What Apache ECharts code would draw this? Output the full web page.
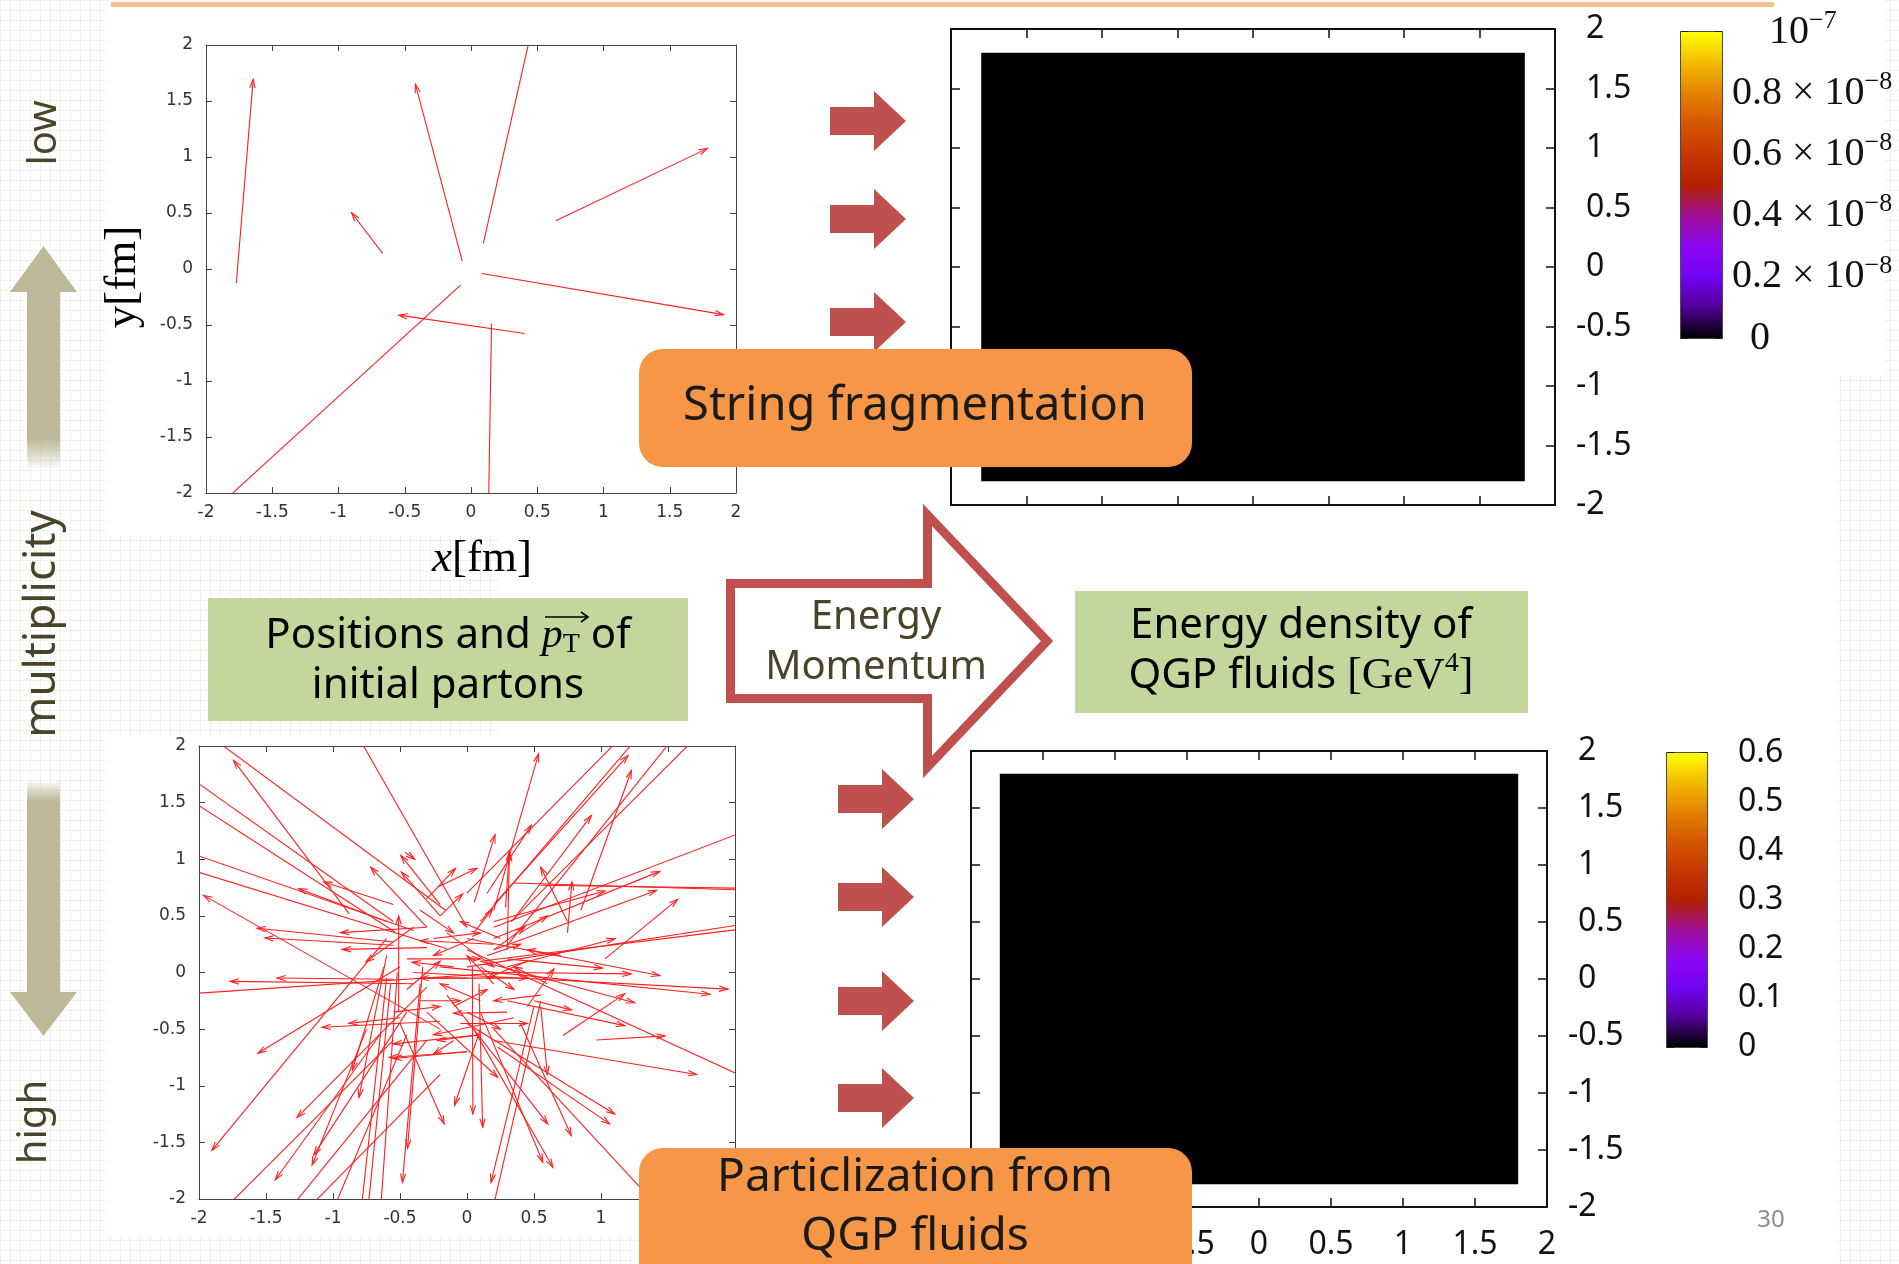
<!DOCTYPE html>
<html>
<head>
<meta charset="utf-8">
<script src="https://cdn.jsdelivr.net/npm/echarts@6/dist/echarts.min.js"></script>
<style>
html,body{margin:0;padding:0;background:#fff;}
#main{width:1899px;height:1264px;}
</style>
</head>
<body>
<div id="main"></div>
<script>
// ---------------- DATA ----------------
// tick labels of the parton plots (x and y, fm)
const posTicks = ['-2','-1.5','-1','-0.5','0','0.5','1','1.5','2'];
// tick labels of the energy-density maps
const mapTicks = ['-2','-1.5','-1','-0.5','0','0.5','1','1.5','2'];

// low multiplicity partons: [x_tail, y_tail, x_head, y_head] (fm)
const lowArrows = [
  [-1.771,-0.124,-1.644,1.693],
  [-0.667,0.139,-0.901,0.502],
  [-0.066,0.070,-0.419,1.649],
  [0.093,0.228,0.489,2.3],
  [0.640,0.430,1.785,1.077],
  [0.082,-0.040,1.906,-0.407],
  [0.405,-0.576,-0.545,-0.412],
  [0.155,-0.487,0.130,-2.3],
  [-0.079,-0.144,-2.1,-2.326]
];

// high multiplicity partons: [x_tail, y_tail, x_head, y_head] (fm)
const highArrows = [
  [-0.16,0.55,-2.0,2.16],[-0.88,0.52,-1.742,1.873],[-0.55,0.45,-2.1,1.75],[-0.54,0.36,-2.1,1.55],
  [-0.4,0.37,-2.1,1.07],[-0.15,0.21,-2.1,0.92],[-0.2,-0.5,-1.966,0.681],[-0.55,0.27,-1.567,0.391],
  [-0.55,0.24,-1.508,0.305],[0.3,0.0,-2.1,-0.19],[-0.4,-0.1,-1.767,-0.078],[-0.55,-0.06,-1.418,-0.049],
  [-0.2,-0.43,-1.081,-0.484],[-0.5,-0.4,-0.881,-0.449],[-0.5,0.05,-1.56,-0.713],[-0.6,0.3,-1.904,-1.57],
  [-0.3,-0.13,-1.268,-1.28],[-0.65,-0.55,-1.43,-1.83],[-0.45,-0.35,-1.143,-1.61],[-0.75,-0.5,-1.156,-1.70],
  [-0.62,0.05,-0.856,-0.863],[-0.6,0.15,-0.806,-1.102],[-0.35,-0.1,-0.482,-1.853],[-0.33,0.05,-0.444,-1.55],
  [-0.5,-0.45,-0.17,-1.337],[0.1,-0.5,-0.093,-1.172],[0.04,0.05,0.044,-1.249],[0.09,-0.1,0.117,-1.366],
  [0.5,-0.3,0.179,-1.853],[-0.3,-0.35,0.229,-0.925],[-0.15,-0.2,0.603,-1.337],[0.05,-0.5,0.641,-1.72],
  [0.1,-0.35,0.566,-1.675],[0.4,-0.45,0.778,-1.44],[0.23,-0.66,1.065,-1.337],[0.0,-0.45,1.102,-1.249],
  [0.2,-0.6,1.713,-0.901],[0.965,-0.596,1.478,-0.56],[0.0,0.2,2.3,-1.05],[0.3,-0.25,1.177,-0.469],
  [0.1,0.1,1.251,-0.267],[0.0,0.3,1.438,-0.027],[-0.2,0.05,1.812,-0.192],[-0.4,0.0,1.946,-0.147],
  [0.3,0.0,1.224,-0.012],[0.3,0.12,1.010,0.039],[1.03,0.12,1.572,0.646],[0.2,0.2,1.414,0.725],
  [0.2,0.3,1.439,0.893],[0.2,0.4,2.3,1.35],[0.35,0.79,2.3,0.72],[0.55,0.77,2.3,0.74],
  [0.3,0.05,1.104,0.298],[0.0,0.05,2.3,0.47],[0.1,0.1,2.3,0.42],[0.342,0.461,0.928,1.387],
  [0.15,0.7,0.479,1.299],[0.055,0.62,0.209,1.217],[0.2,0.55,0.534,1.931],[0.2,0.6,1.202,1.917],
  [0.85,0.55,1.227,1.784],[0.33,0.45,1.73,2.1],[0.3,0.24,1.56,2.1],[0.1,0.45,1.29,2.1],
  [0.0,0.7,1.17,2.1],[0.0,0.4,-0.82,2.1],[-0.2,0.6,-0.494,1.034],[-0.46,1.06,-0.39,1.0],
  [-0.3,0.4,-0.719,0.931],[-0.2,0.5,-0.489,0.887],[-0.55,0.6,-1.068,0.799],[-0.6,0.45,-1.255,0.74],
  [-0.3,0.4,-0.943,0.352],[-0.3,0.22,-0.931,0.204],[-0.4,0.4,-0.754,0.094],[-0.3,0.65,-0.086,0.92],
  [-0.219,0.755,0.075,0.92],[-0.2,0.5,-0.032,0.695],[0.288,0.575,0.315,1.056],[0.3,0.2,0.317,1.064],
  [0.75,0.35,0.783,0.8],[0.45,-0.3,0.649,0.033],[0.716,-0.557,1.177,-0.189],[-0.51,-0.35,-0.51,0.5],
  [0.75,0.45,0.55,0.93],[0.2,0.45,1.03,0.72],[0.2,0.2,0.43,0.4],[0.05,0.35,0.19,0.56],
  [0.5,-0.25,0.78,-0.33],[0.55,-0.3,0.6,-0.9],[0.0,-0.7,-0.58,-0.75],[0.1,-0.55,-0.22,-0.6],
  [-0.55,-0.6,-1.82,-2.1],[-0.3,-0.6,-1.33,-2.1],[-0.2,-0.9,-1.2,-2.1],[-0.45,-0.55,-1.0,-2.1],
  [-0.6,-0.05,-0.79,-2.1],[-0.57,-0.1,-0.74,-2.1],[-0.52,0.0,-0.645,-2.1],[0.55,-0.25,0.19,-2.1],
  [0.2,-0.5,1.45,-2.1],
  [-0.1,0.05,-0.41,0.09],[0.2,0.25,-0.35,0.28],[-0.45,0.12,0.1,0.12],[0.0,-0.05,-0.35,-0.05],
  [-0.3,-0.05,0.45,-0.05],[0.1,-0.25,-0.2,-0.1],[-0.05,-0.45,0.45,-0.45],[0.35,-0.4,-0.25,-0.55],
  [0.1,-0.55,-0.55,-0.63],[0.0,-0.7,-0.55,-0.76],[-0.1,-0.6,-0.25,-0.72],[0.3,-0.35,-0.1,-0.36],
  [0.05,0.3,-0.25,0.15],[0.15,0.15,0.4,0.25],[-0.15,0.35,0.2,0.05],[0.2,-0.1,0.0,0.15],
  [0.45,0.1,0.15,-0.05],[-0.35,-0.25,-0.05,-0.25],[0.55,-0.2,0.2,-0.25],[-0.25,0.3,0.1,0.35],
  [0.1,0.05,0.35,-0.15],[0.25,0.3,-0.05,0.45],[-0.45,-0.15,-0.2,0.1],[0.4,0.35,0.6,0.5],
  [-0.1,-0.3,0.15,-0.15],[0.6,-0.1,0.35,0.05],[-0.55,-0.35,-0.2,-0.3],[0.0,-0.35,0.25,-0.5],
  [0.7,0.15,0.45,0.2],[-0.35,0.55,-0.1,0.35]
];

// energy density maps: one cell spanning the plotted region (fm), value in GeV^4
const densityCellX = [-1.8, 1.8];
const densityCellY = [-1.8, 1.8];
const lowDensity = [0];     // in units of 1e-8 GeV^4
const highDensity = [0];    // GeV^4

// colour bars
const lowBarRange = [0, 1];            // x 1e-8
const lowBarStep = 0.2;
const lowBarLabels = [['0',''],['0.2 × 10','−8'],['0.4 × 10','−8'],['0.6 × 10','−8'],['0.8 × 10','−8'],['10','−7']];
const highBarRange = [0, 0.6];
const highBarStep = 0.1;
const highBarLabels = ['0','0.1','0.2','0.3','0.4','0.5','0.6'];

// ---------------- STYLE ----------------
const SANS = "'Noto Sans','Open Sans',sans-serif";
const SERIF = "'Liberation Serif','DejaVu Serif',serif";
const GNU = "'DejaVu Sans','Noto Sans',sans-serif";
const palette = ['#000000','#510096','#7202f3','#8c07f3','#a11096','#b42000','#c63700','#d55700','#e48300','#f2ba00','#ffff00'];

const chart = echarts.init(document.getElementById('main'), null, {renderer:'canvas'});

function arrowItem(params, api) {
  const p0 = api.coord([api.value(0), api.value(1)]);
  const p1 = api.coord([api.value(2), api.value(3)]);
  const ang = Math.atan2(p1[1]-p0[1], p1[0]-p0[0]);
  const L = 9, a = 0.3;
  const h1 = [p1[0]-L*Math.cos(ang-a), p1[1]-L*Math.sin(ang-a)];
  const h2 = [p1[0]-L*Math.cos(ang+a), p1[1]-L*Math.sin(ang+a)];
  return {type:'group', children:[
    {type:'line', shape:{x1:p0[0],y1:p0[1],x2:p1[0],y2:p1[1]}, style:{stroke:'#ff1e1e', lineWidth:1.1}},
    {type:'polyline', shape:{points:[h1,p1,h2]}, style:{stroke:'#ff1e1e', lineWidth:1.1, fill:null}}
  ]};
}
function cellItem(params, api) {
  const p0 = api.coord([api.value(0), api.value(1)]);
  const p1 = api.coord([api.value(2), api.value(3)]);
  return {type:'rect', shape:{x:Math.min(p0[0],p1[0]), y:Math.min(p0[1],p1[1]),
    width:Math.abs(p1[0]-p0[0]), height:Math.abs(p1[1]-p0[1])}, style:{fill:api.visual('color')}};
}
function barItem(params, api) {
  const p0 = api.coord([api.value(0), api.value(1)]);
  const p1 = api.coord([api.value(2), api.value(3)]);
  const stops = palette.map((c,i)=>({offset:i/(palette.length-1), color:c}));
  return {type:'rect', shape:{x:Math.min(p0[0],p1[0]), y:Math.min(p0[1],p1[1]),
    width:Math.abs(p1[0]-p0[0]), height:Math.abs(p1[1]-p0[1])},
    style:{fill:new echarts.graphic.LinearGradient(0,1,0,0,stops)}};
}

const posLab = v => posTicks[Math.round((v+2)/0.5)];
const mapLab = v => mapTicks[Math.round((v+2)/0.5)];

function posX(gi, bottom) {
  return {gridIndex:gi, type:'value', min:-2, max:2, interval:0.5, position: bottom?'bottom':'top',
    axisLine:{onZero:false, lineStyle:{color:'#444', width:1}},
    axisTick:{inside:true, length:6, lineStyle:{color:'#444'}},
    axisLabel:{show:bottom, formatter:posLab, fontFamily:GNU, fontSize:17, color:'#333', margin:11},
    splitLine:{show:false}};
}
function posY(gi, left) {
  return {gridIndex:gi, type:'value', min:-2, max:2, interval:0.5, position: left?'left':'right',
    axisLine:{onZero:false, lineStyle:{color:'#444', width:1}},
    axisTick:{inside:true, length:6, lineStyle:{color:'#444'}},
    axisLabel:{show:left, formatter:posLab, fontFamily:GNU, fontSize:17, color:'#333', margin:13},
    splitLine:{show:false}};
}
const mapRich = {
  n:{fontFamily:SANS, fontSize:32, color:'#111'},
  p:{fontFamily:SANS, fontSize:32, color:'#111', padding:[0,0,0,10]}
};
function mapX(gi, bottom, labels) {
  return {gridIndex:gi, type:'value', min:-2, max:2, interval:0.5, position: bottom?'bottom':'top',
    axisLine:{onZero:false, lineStyle:{color:'#111', width:2}},
    axisTick:{inside:true, length:9, lineStyle:{color:'#111', width:1.5}},
    axisLabel:{show:labels, formatter:mapLab, fontFamily:SANS, fontSize:32, color:'#111', margin:22},
    splitLine:{show:false}};
}
function mapY(gi, left) {
  return {gridIndex:gi, type:'value', min:-2, max:2, interval:0.5, position: left?'left':'right',
    axisLine:{onZero:false, lineStyle:{color:'#111', width:2}},
    axisTick:{inside:true, length:9, lineStyle:{color:'#111', width:1.5}},
    axisLabel:{show:!left, margin:21, formatter:v => (v<0?'{n|':'{p|')+mapLab(v)+'}', rich:mapRich},
    splitLine:{show:false}};
}
function barX(gi, bottom) {
  return {gridIndex:gi, type:'value', min:0, max:1, position: bottom?'bottom':'top',
    axisLine:{onZero:false, lineStyle:{color:'#111', width:1.5}}, axisTick:{show:false},
    axisLabel:{show:false}, splitLine:{show:false}};
}
function barY(gi, left, range, step, label) {
  return {gridIndex:gi, type:'value', min:range[0], max:range[1], interval:step, position: left?'left':'right',
    axisLine:{onZero:false, lineStyle:{color:'#111', width:1.5}},
    axisTick:{inside:true, length:7, lineStyle:{color:'#111', width:1.5}},
    axisLabel:label ? Object.assign({show:!left}, label) : {show:false},
    splitLine:{show:false}};
}

const lowBarLabel = {
  margin:10,
  formatter: v => {
    const i = Math.round((v-lowBarRange[0])/lowBarStep);
    const l = lowBarLabels[i];
    if (i === 0) return '{z|'+l[0]+'}';
    if (l[0] === '10') return '{t|'+l[0]+'}{s|'+l[1]+'}';
    return '{b|'+l[0]+'}{s|'+l[1]+'}';
  },
  rich:{
    b:{fontFamily:SERIF, fontSize:40, color:'#111'},
    z:{fontFamily:SERIF, fontSize:40, color:'#111', padding:[0,0,0,18]},
    t:{fontFamily:SERIF, fontSize:40, color:'#111', padding:[0,0,0,37]},
    s:{fontFamily:SERIF, fontSize:26, color:'#111', padding:[0,0,22,0]}
  }
};
const highBarLabel = {
  margin:31, fontFamily:SANS, fontSize:32, color:'#111',
  formatter: v => highBarLabels[Math.round((v-highBarRange[0])/highBarStep)]
};

// background dotted pattern
function makePattern(){
  const c=document.createElement('canvas'); c.width=10; c.height=10;
  const g=c.getContext('2d'); g.fillStyle='#e7e9d4';
  for(let i=0;i<10;i+=3){ g.fillRect(i,0,1.5,1); g.fillRect(0,i,1,1.5); }
  return c;
}
const pat = {image:makePattern(), repeat:'repeat'};

function blockArrow(x0, cy) {
  return {type:'polygon', z:5, shape:{points:[[x0,cy-14],[x0+44,cy-14],[x0+44,cy-30],[x0+76,cy],[x0+44,cy+30],[x0+44,cy+14],[x0,cy+14]]},
    style:{fill:'#c0504d'}};
}
function txt(text, x, y, size, color, extra) {
  return Object.assign({type:'text', x:x, y:y, z:60, style:Object.assign({text:text, fontFamily:SANS, fontSize:size, fill:color, align:'center', verticalAlign:'middle'}, extra||{})});
}

const graphics = [
  // background pattern strips
  {type:'rect', z:0, shape:{x:0,y:0,width:108,height:1264}, style:{fill:pat}},
  {type:'rect', z:0, shape:{x:108,y:535,width:390,height:200}, style:{fill:pat}},
  {type:'rect', z:0, shape:{x:108,y:1235,width:530,height:29}, style:{fill:pat}},
  {type:'rect', z:0, shape:{x:1838,y:375,width:61,height:889}, style:{fill:pat}},
  {type:'rect', z:0, shape:{x:1884,y:0,width:15,height:375}, style:{fill:pat}},
  // top rule
  {type:'rect', z:5, shape:{x:111,y:2,width:1663,height:5}, style:{fill:'#fac090'}},
  // multiplicity double arrow
  {type:'polygon', z:5, shape:{points:[[43.5,246],[77,292],[60,292],[60,470],[27,470],[27,292],[10,292]]},
    style:{fill:new echarts.graphic.LinearGradient(0,0,0,1,[{offset:0,color:'#bdb898'},{offset:0.86,color:'#bdb898'},{offset:1,color:'rgba(189,184,152,0)'}])}},
  {type:'polygon', z:5, shape:{points:[[27,780],[60,780],[60,992],[77,992],[43.5,1036],[10,992],[27,992]]},
    style:{fill:new echarts.graphic.LinearGradient(0,0,0,1,[{offset:0,color:'rgba(189,184,152,0)'},{offset:0.08,color:'#bdb898'},{offset:1,color:'#bdb898'}])}},
  Object.assign(txt('low', 45, 133, 40, '#494429'), {rotation:Math.PI/2}),
  Object.assign(txt('multiplicity', 42, 624, 44, '#494429'), {rotation:Math.PI/2}),
  Object.assign(txt('high', 35, 1122, 40, '#494429'), {rotation:Math.PI/2}),
  // red block arrows
  blockArrow(830,121), blockArrow(830,219), blockArrow(830,322),
  blockArrow(838,799), blockArrow(838,897), blockArrow(838,1001), blockArrow(838,1098),
  // big outlined arrow
  {type:'polygon', z:5, shape:{points:[[730.5,583.5],[927.5,583.5],[927.5,515],[1047,641],[927.5,767],[927.5,698.5],[730.5,698.5]]},
    style:{fill:'#ffffff', stroke:'#c0504d', lineWidth:9, lineJoin:'miter'}},
  txt('Energy', 876, 618, 40, '#494429'),
  txt('Momentum', 876, 668, 40, '#494429'),
  // green boxes
  {type:'rect', z:5, shape:{x:208,y:598,width:480,height:123}, style:{fill:'#c3d69b'}},
  {type:'rect', z:5, shape:{x:1075,y:591,width:453,height:122}, style:{fill:'#c3d69b'}},
  txt('{n|Positions and }{p|p}{s|T}{n| of}', 448, 636, 42, '#000', {rich:{
    n:{fontFamily:SANS, fontSize:42, fill:'#000'},
    p:{fontFamily:SERIF, fontStyle:'italic', fontSize:42, fill:'#000'},
    s:{fontFamily:SERIF, fontSize:28, fill:'#000', padding:[18,0,0,0]}}}),
  {type:'polyline', z:61, shape:{points:[[545,617],[588,617]]}, style:{stroke:'#000', lineWidth:1.6, fill:null}},
  {type:'polyline', z:61, shape:{points:[[581,612],[588,617],[581,622]]}, style:{stroke:'#000', lineWidth:1.6, fill:null}},
  txt('initial partons', 448, 686, 42, '#000'),
  txt('Energy density of', 1301, 626, 42, '#000'),
  txt('{n|QGP fluids }{g|[GeV}{e|4}{g|]}', 1301, 676, 42, '#000', {rich:{
    n:{fontFamily:SANS, fontSize:42, fill:'#000'},
    g:{fontFamily:SERIF, fontSize:44, fill:'#000'},
    e:{fontFamily:SERIF, fontSize:28, fill:'#000', padding:[0,0,24,0]}}}),
  // orange boxes
  {type:'rect', z:50, shape:{x:639,y:349,width:553,height:118,r:24}, style:{fill:'#f79646'}},
  txt('String fragmentation', 915, 407, 47, '#1a1a1a'),
  {type:'rect', z:50, shape:{x:639,y:1148,width:553,height:140,r:24}, style:{fill:'#f79646'}},
  txt('Particlization from', 915, 1178, 46, '#1a1a1a'),
  txt('QGP fluids', 915, 1237, 46, '#1a1a1a'),
  // page number
  txt('30', 1771, 1220, 24, '#8c8c8c')
];

const option = {
  backgroundColor:'#ffffff',
  animation:false,
  grid:[
    {left:206, top:45, width:530, height:448},
    {left:199, top:746, width:536, height:453},
    {left:951, top:29, width:604, height:476},
    {left:971, top:751, width:576, height:456},
    {left:1681, top:32, width:41, height:306},
    {left:1667, top:753, width:40, height:294}
  ],
  xAxis:[
    Object.assign(posX(0,true), {name:'{i|x}[fm]', nameLocation:'middle', nameGap:44,
      nameTextStyle:{fontFamily:SERIF, fontSize:45, color:'#000', padding:[0,0,0,22],
        rich:{i:{fontFamily:SERIF, fontStyle:'italic', fontSize:45, color:'#000'}}}}),
    posX(0,false),
    posX(1,true), posX(1,false),
    mapX(2,true,false), mapX(2,false,false),
    mapX(3,true,true), mapX(3,false,false),
    barX(4,true), barX(4,false),
    barX(5,true), barX(5,false)
  ],
  yAxis:[
    Object.assign(posY(0,true), {name:'y[fm]', nameLocation:'middle', nameGap:60, nameRotate:90,
      nameTextStyle:{fontFamily:SERIF, fontSize:45, color:'#000', padding:[0,16,0,0]}}),
    posY(0,false),
    posY(1,true), posY(1,false),
    mapY(2,true), mapY(2,false),
    mapY(3,true), mapY(3,false),
    barY(4,true,lowBarRange,lowBarStep,null), barY(4,false,lowBarRange,lowBarStep,lowBarLabel),
    barY(5,true,highBarRange,highBarStep,null), barY(5,false,highBarRange,highBarStep,highBarLabel)
  ],
  visualMap:[
    {type:'continuous', show:false, seriesIndex:2, dimension:4, min:lowBarRange[0], max:lowBarRange[1], inRange:{color:palette}},
    {type:'continuous', show:false, seriesIndex:3, dimension:4, min:highBarRange[0], max:highBarRange[1], inRange:{color:palette}}
  ],
  series:[
    {type:'custom', xAxisIndex:0, yAxisIndex:0, clip:true, renderItem:arrowItem,
      encode:{x:[0,2], y:[1,3]}, data:lowArrows},
    {type:'custom', xAxisIndex:2, yAxisIndex:2, clip:true, renderItem:arrowItem,
      encode:{x:[0,2], y:[1,3]}, data:highArrows},
    {type:'custom', xAxisIndex:4, yAxisIndex:4, renderItem:cellItem, encode:{x:[0,2], y:[1,3]},
      data:lowDensity.map(v=>[densityCellX[0],densityCellY[0],densityCellX[1],densityCellY[1],v])},
    {type:'custom', xAxisIndex:6, yAxisIndex:6, renderItem:cellItem, encode:{x:[0,2], y:[1,3]},
      data:highDensity.map(v=>[densityCellX[0],densityCellY[0],densityCellX[1],densityCellY[1],v])},
    {type:'custom', xAxisIndex:8, yAxisIndex:8, renderItem:barItem, encode:{x:[0,2], y:[1,3]},
      data:[[0,lowBarRange[0],1,lowBarRange[1]]]},
    {type:'custom', xAxisIndex:10, yAxisIndex:10, renderItem:barItem, encode:{x:[0,2], y:[1,3]},
      data:[[0,highBarRange[0],1,highBarRange[1]]]}
  ],
  graphic:{elements:graphics}
};
chart.setOption(option);
</script>
</body>
</html>
